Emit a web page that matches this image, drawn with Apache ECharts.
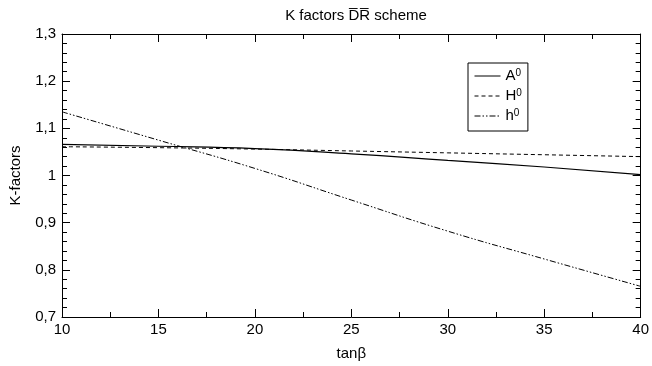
<!DOCTYPE html>
<html><head><meta charset="utf-8">
<script src="https://cdn.jsdelivr.net/npm/echarts@6/dist/echarts.min.js"></script>
<style>html,body{margin:0;padding:0;background:#fff}#c{width:652px;height:366px}</style>
</head><body><div id="c"></div>
<script>
const tanBeta = [10, 15, 20, 25, 30, 35, 40];
const A0 = [1.066, 1.062, 1.057, 1.046, 1.032, 1.018, 1.002];
const H0 = [1.061, 1.059, 1.056, 1.052, 1.048, 1.044, 1.040];
const h0 = [1.135, 1.075, 1.015, 0.948, 0.882, 0.823, 0.765];
const yTickLabels = {0.7:'0,7',0.8:'0,8',0.9:'0,9',1:'1',1.1:'1,1',1.2:'1,2',1.3:'1,3'};

const font = 'Liberation Sans, Arial, sans-serif';
const fs = 15;
const chart = echarts.init(document.getElementById('c'));
const pair = a => tanBeta.map((x,i)=>[x,a[i]]);
function ax(extra, split){
  return Object.assign({
    axisLine:{lineStyle:{color:'#000',width:1}},
    axisTick:{inside:true,length:8,lineStyle:{color:'#000'}},
    minorTick:{show:true,splitNumber:split,length:5,lineStyle:{color:'#000'}},
    splitLine:{show:false}
  }, extra);
}
chart.setOption({
  animation:false,
  title:{text:'K factors D\u0305R\u0305 scheme',left:351,textAlign:'center',top:3,
    textStyle:{fontFamily:font,fontSize:fs,fontWeight:'normal',color:'#000'}},
  legend:{orient:'vertical',left:468,top:63,
    borderColor:'#000',borderWidth:1,padding:[5,6,5,6],itemGap:2,
    itemWidth:26,itemHeight:12,
    itemStyle:{opacity:0},
    lineStyle:{width:1},
    textStyle:{fontFamily:font,fontSize:fs,color:'#000',lineHeight:16,
      rich:{s:{fontFamily:font,fontSize:10,verticalAlign:'top',lineHeight:10,padding:[0,0,8,0]}}},
    formatter:n=>n.charAt(0)+'{s|0}',
    data:['A0','H0','h0']},
  grid:{left:58,right:9,top:34,bottom:44},
  xAxis:[
    ax({type:'value',min:10,max:40,interval:5,
      name:'tanβ',nameLocation:'middle',nameGap:29,
      nameTextStyle:{fontFamily:font,fontSize:fs,color:'#000'},
      axisLabel:{fontFamily:font,fontSize:fs,color:'#000',margin:5}},2),
    ax({type:'value',min:10,max:40,interval:5,position:'top',
      axisLabel:{show:false}},2)
  ],
  yAxis:[
    ax({type:'value',min:0.7,max:1.3,interval:0.1,
      name:'K-factors',nameLocation:'middle',nameGap:39,
      nameTextStyle:{fontFamily:font,fontSize:fs,color:'#000'},
      axisLabel:{fontFamily:font,fontSize:fs,color:'#000',margin:6,
        formatter:v=>yTickLabels[Math.round(v*10)/10]}},5),
    ax({type:'value',min:0.7,max:1.3,interval:0.1,position:'right',
      axisLabel:{show:false}},5)
  ],
  series:[
    {name:'A0',type:'line',smooth:true,symbol:'none',data:pair(A0),
      lineStyle:{color:'#000',width:1.2,type:'solid'},itemStyle:{color:'#000'}},
    {name:'H0',type:'line',smooth:true,symbol:'none',data:pair(H0),
      lineStyle:{color:'#000',width:1,type:[4,3]},itemStyle:{color:'#000'}},
    {name:'h0',type:'line',smooth:true,symbol:'none',data:pair(h0),
      lineStyle:{color:'#000',width:1,type:[6,2,1.5,2,1.5,2]},itemStyle:{color:'#000'}}
  ]
});
</script></body></html>
